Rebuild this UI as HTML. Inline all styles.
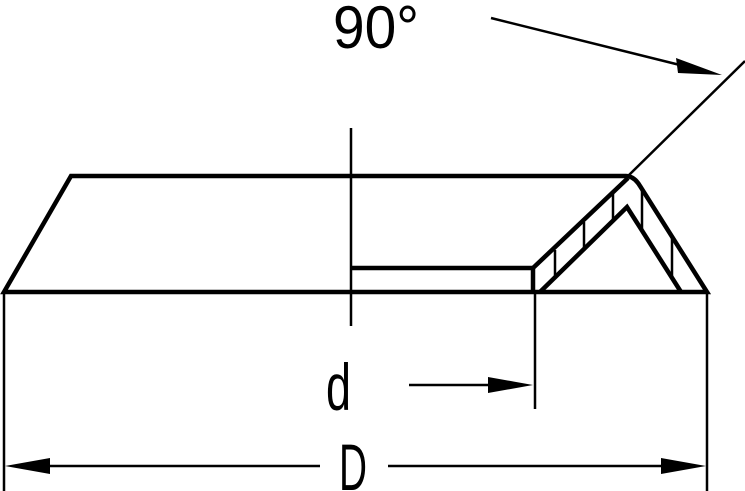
<!DOCTYPE html>
<html><head><style>html,body{margin:0;padding:0;background:#fff}svg{display:block}</style></head>
<body>
<svg width="745" height="491" viewBox="0 0 745 491" xmlns="http://www.w3.org/2000/svg">
<g fill="none" stroke="#000" stroke-width="4.5" stroke-linejoin="miter">
<path d="M4,292 L71,176 L626,176 Q634,176 640,186 L707,292 Z"/>
<path d="M350,268 L533,268 L533,292"/>
<path d="M533,268 L628,178"/>
<path d="M540,292 L627,207 L681,292"/>
</g>
<g stroke="#000" stroke-width="2.5" fill="none">
<line x1="555" y1="250" x2="555" y2="279"/>
<line x1="584" y1="222" x2="584" y2="251"/>
<line x1="613" y1="194" x2="613" y2="222"/>
<line x1="642" y1="188" x2="642" y2="230"/>
<line x1="672" y1="236" x2="672" y2="279"/>
<line x1="628" y1="176" x2="745" y2="61"/>
<line x1="491" y1="18" x2="700" y2="70"/>
<line x1="351" y1="128" x2="351" y2="326"/>
<line x1="535" y1="292" x2="535" y2="409"/>
<line x1="409" y1="385" x2="500" y2="385"/>
<line x1="4" y1="292" x2="4" y2="491"/>
<line x1="707" y1="292" x2="707" y2="491"/>
<line x1="30" y1="466" x2="320" y2="466"/>
<line x1="388" y1="466" x2="680" y2="466"/>
</g>
<g fill="#000">
<polygon points="722,75 676,58 678,73"/>
<polygon points="533,385 488,377 488,393"/>
<polygon points="5,466 50,458 50,474"/>
<polygon points="706,466 661,458 661,474"/>
</g>
<g font-family="Liberation Sans, sans-serif" font-weight="normal" fill="#000">
<text x="333" y="48" font-size="60" textLength="86" lengthAdjust="spacingAndGlyphs">90°</text>
<text x="326" y="410" font-size="66" textLength="25" lengthAdjust="spacingAndGlyphs">d</text>
<text x="339" y="490" font-size="66" textLength="28" lengthAdjust="spacingAndGlyphs">D</text>
</g>
</svg>
</body></html>
